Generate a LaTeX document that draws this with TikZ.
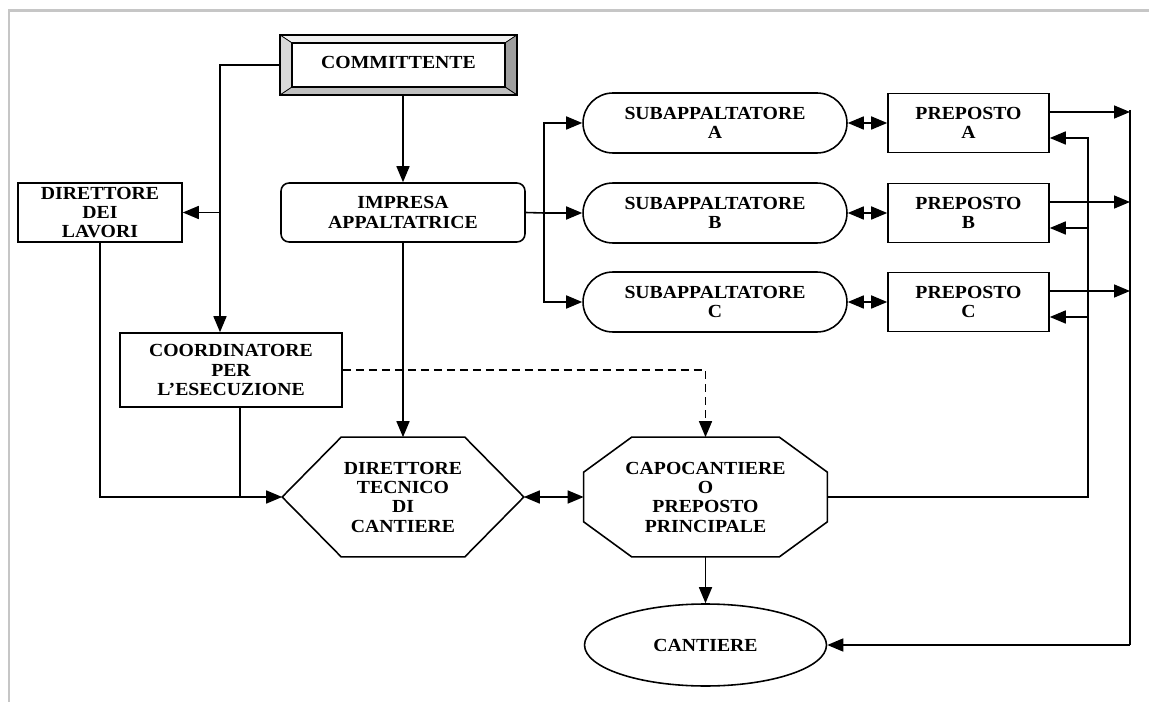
\documentclass[tikz,border=0pt]{standalone}
\usepackage{fontspec}
\setmainfont{Liberation Serif}[FakeStretch=1.07]
\usetikzlibrary{calc,arrows.meta,shapes.geometric}

\begin{document}
\begin{tikzpicture}[x=0.02cm, y=-0.02cm,
		every node/.style={font=\fontsize{10.5}{11}\selectfont\bfseries, align=center, inner sep=0pt},
		plainbox/.style={draw, line width=0.9pt, minimum height=1.18cm},
		capsule/.style={draw, line width=0.9pt, rounded corners=0.6cm, minimum width=5.28cm, minimum height=1.2cm},
		outline/.style={line width=0.9pt},
		arr/.style={line width=0.9pt, -{Triangle[length=0.32cm, width=0.26cm]}},
		arrboth/.style={line width=0.9pt, {Triangle[length=0.32cm, width=0.26cm]}-{Triangle[length=0.32cm, width=0.26cm]}}]
		%%%%% START %%%%%
		
		\useasboundingbox (0,0) rectangle (1149,702);
		\draw[gray!45, line width=0.06cm] (9,702) -- (9,11) -- (1149,11);
		
		\node[draw, line width=0.9pt, fill=gray!45, minimum width=4.74cm, minimum height=1.2cm,
			path picture={
				\path (path picture bounding box.north west) coordinate (bnw)
					(path picture bounding box.south east) coordinate (bse);
				\filldraw[fill=gray!12, line width=0.4pt] (bnw) -- (bnw -| bse) -- ($(bnw -| bse)+(-0.24cm,-0.16cm)$) -- ($(bnw)+(0.24cm,-0.16cm)$) -- cycle;
				\filldraw[fill=gray!30, line width=0.4pt] (bnw) -- ($(bnw)+(0.24cm,-0.16cm)$) -- ($(bse -| bnw)+(0.24cm,0.16cm)$) -- (bse -| bnw) -- cycle;
				\filldraw[fill=gray!75, line width=0.4pt] (bnw -| bse) -- (bse) -- ($(bse)+(-0.24cm,0.16cm)$) -- ($(bnw -| bse)+(-0.24cm,-0.16cm)$) -- cycle;
				\filldraw[fill=gray!50, line width=0.4pt] (bse -| bnw) -- (bse) -- ($(bse)+(-0.24cm,0.16cm)$) -- ($(bse -| bnw)+(0.24cm,0.16cm)$) -- cycle;
				\draw[fill=white, line width=0.6pt] ($(bnw)+(0.24cm,-0.16cm)$) rectangle ($(bse)+(-0.24cm,0.16cm)$);
			}] (comm) at (398.5,65) {\raisebox{0.12cm}{COMMITTENTE}};
		
		\node[plainbox, minimum width=3.28cm] (dl) at (100,212.5) {DIRETTORE\\DEI\\LAVORI};
		\node[plainbox, rounded corners=0.16cm, minimum width=4.88cm] (impresa) at (403,212.5) {IMPRESA\\APPALTATRICE};
		\node[plainbox, minimum width=4.44cm, minimum height=1.48cm] (coord) at (231,370) {COORDINATORE\\PER\\L'ESECUZIONE};
		
		\node[capsule] (subA) at (715,123) {SUBAPPALTATORE\\A};
		\node[capsule] (subB) at (715,213) {SUBAPPALTATORE\\B};
		\node[capsule] (subC) at (715,302) {SUBAPPALTATORE\\C};
		
		\node[plainbox, minimum width=3.22cm] (prepA) at (968.5,123) {PREPOSTO\\A};
		\node[plainbox, minimum width=3.22cm] (prepB) at (968.5,213) {PREPOSTO\\B};
		\node[plainbox, minimum width=3.22cm] (prepC) at (968.5,302) {PREPOSTO\\C};
		
		\node[minimum width=4.82cm, minimum height=2.38cm] (dtc) at (403,497) {DIRETTORE\\TECNICO\\DI\\CANTIERE};
		\draw[outline] (dtc.west) -- ([xshift=1.18cm]dtc.north west) -- ([xshift=-1.18cm]dtc.north east) -- (dtc.east)
			-- ([xshift=-1.18cm]dtc.south east) -- ([xshift=1.18cm]dtc.south west) -- cycle;
		
		\node[minimum width=4.86cm, minimum height=2.38cm] (capo) at (705.5,497) {CAPOCANTIERE\\O\\PREPOSTO\\PRINCIPALE};
		\draw[outline] ([yshift=-0.7cm]capo.north west) -- ([xshift=0.96cm]capo.north west) -- ([xshift=-0.96cm]capo.north east)
			-- ([yshift=-0.7cm]capo.north east) -- ([yshift=0.7cm]capo.south east) -- ([xshift=-0.96cm]capo.south east)
			-- ([xshift=0.96cm]capo.south west) -- ([yshift=0.7cm]capo.south west) -- cycle;
		
		\node[draw, line width=0.9pt, ellipse, minimum width=4.84cm, minimum height=1.64cm] (cantiere) at (705.5,645) {CANTIERE};
		
		\coordinate (spine) at (220,212.5);
		\coordinate (fork) at (544,213);
		\coordinate (feedx) at (1088,0);
		\coordinate (busx) at (1130,0);
		
		\draw[arr] (comm.west) -| (spine |- coord.north);
		\draw[arr] (spine) -- (dl.east);
		\draw[arr] (impresa.north |- comm.south) -- (impresa.north);
		\draw[arr] (impresa.south) -- (dtc.north);
		
		\draw[outline] (impresa.east) -- (fork);
		\draw[arr] (fork) |- (subA.west);
		\draw[arr] (fork) -- (subB.west);
		\draw[arr] (fork) |- (subC.west);
		
		\foreach \n in {A,B,C} {
			\draw[arrboth] (sub\n.east) -- (prep\n.west);
			\draw[arr] ([yshift=0.22cm]prep\n.east) -- ([yshift=0.22cm]prep\n.east -| busx);
		}
		\foreach \n in {B,C}
			\draw[arr] ([yshift=-0.3cm]prep\n.east -| feedx) -- ([yshift=-0.3cm]prep\n.east);
		
		\draw[arr] (capo.east) -| ([yshift=-0.3cm]prepA.east -| feedx) -- ([yshift=-0.3cm]prepA.east);
		\draw[line width=1.4pt] ([yshift=0.26cm]prepA.east -| busx) -- (cantiere.east -| busx);
		\draw[arr] (cantiere.east -| busx) -- (cantiere.east);
		
		\draw[arr] (dl.south) |- (dtc.west);
		\draw[outline] ([xshift=0.18cm]coord.south) -- ([xshift=0.18cm]coord.south |- dtc.west);
		\draw[arr, dash pattern=on 0.16cm off 0.1cm] (coord.east) -| (capo.north);
		
		\draw[arrboth] (dtc.east) -- (capo.west);
		\draw[arr] (capo.south) -- (cantiere.north);
		
		%%%%% END %%%%%
	\end{tikzpicture}
\end{document}
